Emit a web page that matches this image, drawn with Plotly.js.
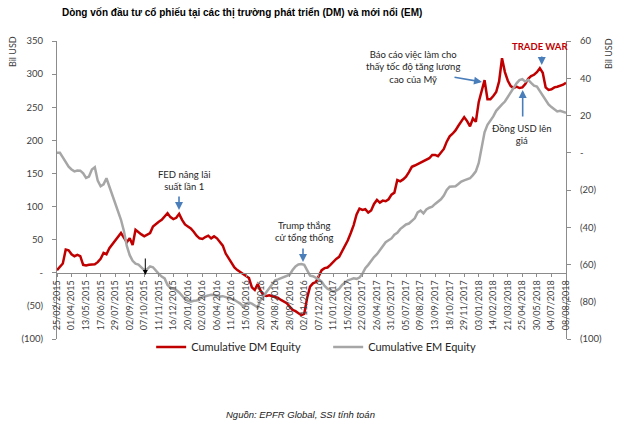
<!DOCTYPE html>
<html>
<head>
<meta charset="utf-8">
<script src="https://cdn.plot.ly/plotly-3.0.1.min.js"></script>
<style>
html,body{margin:0;padding:0;background:#fff;}
#chart{width:624px;height:433px;}
</style>
</head>
<body>
<div id="chart"></div>
<script>
const tickLabels = ["25/02/2015","01/04/2015","13/05/2015","17/06/2015","29/07/2015","02/09/2015","07/10/2015","11/11/2015","16/12/2015","20/01/2016","02/03/2016","06/04/2016","11/05/2016","15/06/2016","20/07/2016","24/08/2016","28/09/2016","02/11/2016","07/12/2016","11/01/2017","15/02/2017","22/03/2017","26/04/2017","31/05/2017","05/07/2017","09/08/2017","13/09/2017","18/10/2017","29/11/2017","03/01/2018","14/02/2018","21/03/2018","25/04/2018","30/05/2018","04/07/2018","08/08/2018"];

const dmEquity = [4,9,14,35,34,28,25,27,25,12,
11,12,12,13,16,21,30,28,37,43,
48,54,60,53,46,52,42,65,61,58,
55,57,60,70,74,77,80,85,90,84,
81,83,89,80,73,70,67,62,56,52,
51,54,56,52,55,52,47,41,29,22,
14,8,4,1,-1,-4,-8,-22,-26,-17,
-27,-34,-35,-34,-35,-37,-38,-41,-43,-46,
-51,-56,-58,-61,-64,-62,-38,-21,-16,-14,
-6,4,7,8,12,17,21,24,32,40,
49,60,72,88,97,95,96,91,94,104,
110,106,109,108,111,118,121,140,138,141,
145,152,160,162,164,167,169,170,173,178,
178,176,181,187,198,206,210,215,222,229,
235,229,221,233,228,258,273,291,262,262,
267,273,289,324,303,290,282,279,281,279,
280,285,293,297,299,303,309,302,280,276,
277,280,281,282,284,287];

const emEquity = [0,0,-2.5,-5,-7.5,-9,-10,-9.5,-9.6,-11,
-13.5,-12.8,-9,-7.8,-15,-18,-17,-13.7,-18,-23,
-26.5,-31,-36,-42,-50,-55,-58,-59.5,-60,-61.5,
-63,-62.5,-61,-61.5,-63.5,-65,-66.5,-67.5,-71,-72.5,
-73,-73.7,-75,-77,-78.5,-79.5,-80,-79.5,-79.4,-78.5,
-77.5,-77,-76.5,-76.3,-76.4,-76.8,-77.2,-77,-77.5,-78,
-78.5,-79,-80,-81,-82.5,-81,-80.5,-81,-82,-83,
-79,-77,-75,-72.5,-70.5,-68.5,-68,-67.4,-67,-66.5,
-65.5,-63,-61,-60,-59.7,-60.2,-63.5,-66,-66.3,-67,
-68,-69.2,-71.5,-73,-74,-74.6,-74,-73,-71,-69.5,
-68.5,-68,-67.4,-67.7,-67,-65,-62,-60.2,-58,-56,
-54.5,-52.5,-50,-48,-47,-46,-44,-43,-41,-39.5,
-38.5,-38,-36.5,-35.2,-32,-31,-32.5,-30.5,-29.5,-29,
-27.5,-26.3,-25,-23,-20,-18.2,-18.3,-18,-16.8,-15.5,
-14.8,-14.2,-13.7,-12,-10,-5.5,3,11,15,17,
19.5,22.5,24.5,26,27.5,30,33,35.5,37.3,39,
39.5,38.2,39.1,37.5,36,35.5,33,30.5,28,26,
24.5,23.5,22.2,22.5,22,21.5];

const leftTicks = [-100,-50,0,50,100,150,200,250,300,350];
const leftTickText = ["(100)","(50)","-","50","100","150","200","250","300","350"];
const rightTicks = [-100,-80,-60,-40,-20,0,20,40,60];
const rightTickText = ["(100)","(80)","(60)","(40)","(20)","-","20","40","60"];
const seriesNames = ["Cumulative DM Equity","Cumulative EM Equity"];

const xIdx = dmEquity.map((_, i) => i);
const tickIdx = tickLabels.map((_, k) => k * 5);

const FONT = "Lato, 'Open Sans', sans-serif";
const axisGray = "#8c8c8c";
const txtGray = "#404040";
const blue = "#4a7ebb";

const traces = [
  {x: xIdx, y: dmEquity, type: "scatter", mode: "lines", name: seriesNames[0],
   line: {color: "#c00000", width: 2.5}, yaxis: "y", hoverinfo: "skip"},
  {x: xIdx, y: emEquity, type: "scatter", mode: "lines", name: seriesNames[1],
   line: {color: "#a6a6a6", width: 2.5}, yaxis: "y2", hoverinfo: "skip"}
];

function arrow(x, y, ax, ay, color, w) {
  return {xref: "paper", yref: "paper", x: x, y: y, ax: ax, ay: ay, text: "",
          showarrow: true, arrowhead: 2, arrowsize: 1, arrowwidth: w || 1.6, arrowcolor: color};
}
function label(x, y, text, opts) {
  return Object.assign({xref: "paper", yref: "paper", x: x, y: y, text: text, showarrow: false,
    xanchor: "center", yanchor: "middle", align: "center",
    font: {family: FONT, size: 9.5, color: "#262626"}}, opts || {});
}

const layout = {
  width: 624, height: 433,
  margin: {l: 57, r: 58, t: 41, b: 94, pad: 0},
  paper_bgcolor: "#fff", plot_bgcolor: "#fff",
  showlegend: true,
  title: {text: "Dòng vốn đầu tư cổ phiếu tại các thị trường phát triển (DM) và mới nổi (EM)",
          x: 0.388, xanchor: "center", y: 0.97, yanchor: "middle",
          font: {family: "'Liberation Sans', Arial, sans-serif", size: 10, color: "#000", weight: "bold"}},
  xaxis: {
    type: "linear", range: [0, 175], anchor: "free", position: 0.2222,
    tickmode: "array", tickvals: tickIdx, ticktext: tickLabels, tickangle: -90,
    showline: true, linecolor: axisGray, linewidth: 1, ticks: "outside", ticklen: 3, tickcolor: axisGray,
    showgrid: false, zeroline: false, automargin: false,
    tickfont: {family: FONT, size: 9, color: txtGray}
  },
  yaxis: {
    range: [-100, 350], tickmode: "array", tickvals: leftTicks, ticktext: leftTickText,
    showline: true, linecolor: axisGray, linewidth: 1, ticks: "outside", ticklen: 4, tickcolor: axisGray,
    showgrid: false, zeroline: false, automargin: false, ticklabelstandoff: 7,
    tickfont: {family: FONT, size: 9.5, color: txtGray}
  },
  yaxis2: {
    range: [-100, 60], overlaying: "y", side: "right", tickmode: "array",
    tickvals: rightTicks, ticktext: rightTickText,
    showline: true, linecolor: axisGray, linewidth: 1, ticks: "outside", ticklen: 4, tickcolor: axisGray,
    showgrid: false, zeroline: false, automargin: false, ticklabelstandoff: 7,
    tickfont: {family: FONT, size: 9.5, color: txtGray}
  },
  legend: {orientation: "h", x: 0.185, xanchor: "left", y: -0.027, yanchor: "middle",
           font: {family: FONT, size: 11, color: "#262626"}, entrywidth: 132, entrywidthmode: "pixels",
           bgcolor: "rgba(0,0,0,0)"},
  annotations: [
    label(-0.0884, 0.963, "Bil USD", {textangle: -90, font: {family: FONT, size: 9, color: txtGray}}),
    label(1.085, 0.957, "Bil USD", {textangle: -90, font: {family: FONT, size: 9, color: txtGray}}),
    label(0.2495, 0.5319, "FED nâng lãi<br>suất lần 1"),
    arrow(0.2397, 0.4329, 0, -15, blue),
    arrow(0.1735, 0.2148, 0, -18, "#000", 1),
    label(0.4853, 0.3591, "Trump thắng<br>cử tổng thống"),
    arrow(0.4833, 0.2584, 0, -15, blue),
    label(0.6994, 0.9111, "Báo cáo việc làm cho<br>thấy tốc độ tăng lương<br>cao của Mỹ"),
    arrow(0.8350, 0.8624, -29, -5, blue),
    label(0.9489, 0.9809, "<b>TRADE WAR</b>", {font: {family: FONT, size: 9.5, color: "#c00000"}}),
    arrow(0.9523, 0.9195, 0, -10, blue),
    label(0.9136, 0.6862, "Đồng USD lên<br>giá"),
    arrow(0.9149, 0.8356, 0, 28, blue),
    {xref: "paper", yref: "paper", x: (300 - 57) / 509, y: (339 - 414) / 298, showarrow: false,
     xanchor: "center", yanchor: "middle",
     text: "<i>Nguồn: EPFR Global, SSI tính toán</i>",
     font: {family: "'Liberation Sans', Arial, sans-serif", size: 9.5, color: "#1a1a1a"}}
  ]
};

Plotly.newPlot("chart", traces, layout, {staticPlot: true, displayModeBar: false});
</script>
</body>
</html>
